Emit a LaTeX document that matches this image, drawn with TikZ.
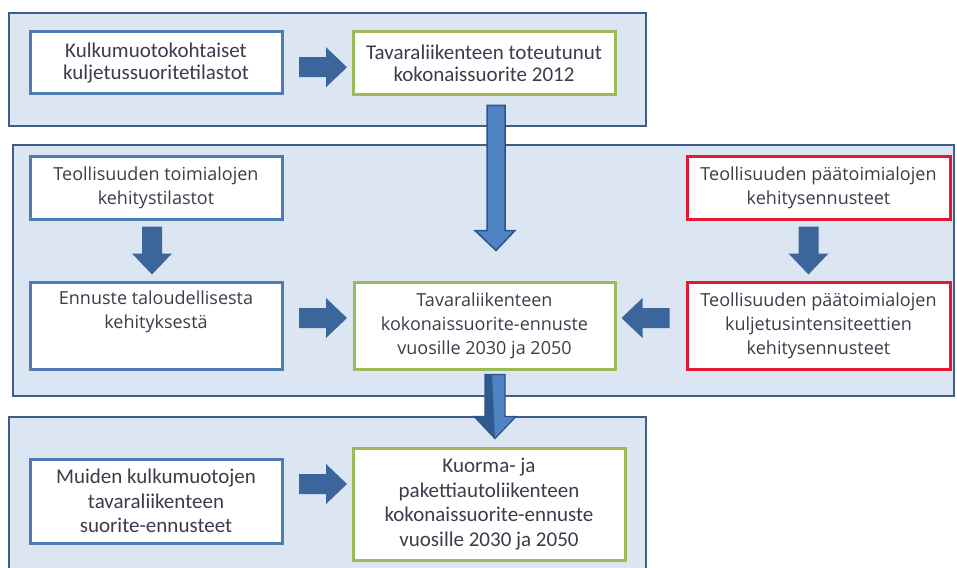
\documentclass[tikz,border=0pt]{standalone}
\usepackage{fontspec}
\setmainfont{Carlito}
\newfontfamily\opensans{Open Sans}
\usetikzlibrary{calc}

\definecolor{panelfill}{HTML}{DCE6F2}
\definecolor{panelline}{HTML}{3F5E88}
\definecolor{boxblue}{HTML}{4F7BB3}
\definecolor{boxgreen}{HTML}{9BBB59}
\definecolor{boxred}{HTML}{E2192F}
\definecolor{arrowblue}{HTML}{3C659B}
\definecolor{textgrey}{HTML}{3C3C4C}
\definecolor{longfill}{HTML}{4F83C2}
\definecolor{longdark}{HTML}{2F5A8F}
\definecolor{longline}{HTML}{2D5488}

\tikzset{
  panel/.style={draw=panelline, line width=2pt, fill=panelfill},
  box/.style={draw, line width=3pt, fill=white, align=center, inner sep=0pt,
    text=textgrey},
  bluebox/.style={box, draw=boxblue},
  greenbox/.style={box, draw=boxgreen},
  redbox/.style={box, draw=boxred},
  fonttop/.style={font=\fontsize{21}{22}\selectfont},
  fontmid/.style={font=\opensans\fontsize{18}{24}\selectfont},
  fontlow/.style={font=\fontsize{21}{24.5}\selectfont},
  pics/blockarrow/.style={code={
    \fill[arrowblue] (-24,-10) -- (3,-10) -- (3,-20) -- (24,0) -- (3,20)
      -- (3,10) -- (-24,10) -- cycle;
  }},
  longarrow/.style={fill=longfill, draw=longline, line width=1.5pt, line join=miter},
}

\begin{document}
\begin{tikzpicture}[x=1pt, y=-1pt]
  \useasboundingbox (0,0) rectangle (957,567);
  \fill[white] (0,0) rectangle (957,567);
  \clip (0,0) rectangle (957,567);

  % three stages
  \draw[panel] (9,13) rectangle (646,126);
  \draw[panel] (13,145) rectangle (954,396);
  \draw[panel] (9,417) rectangle (646,600);

  % stage 1
  \node[bluebox, fonttop, minimum width=252pt, minimum height=62pt] (k1) at (156,63)
    {Kulkumuotokohtaiset\\kuljetussuoritetilastot};
  \node[greenbox, fonttop, minimum width=262pt, minimum height=63pt] (g1) at (484,63.5)
    {Tavaraliikenteen toteutunut\\kokonaissuorite 2012};

  % stage 2
  \node[bluebox, fontmid, minimum width=252pt, minimum height=63pt] (t1) at (156,187.5)
    {Teollisuuden toimialojen\\kehitystilastot};
  \node[bluebox, fontmid, minimum width=252pt, minimum height=87pt] (e1) at (156,325.5)
    {Ennuste taloudellisesta\\kehityksestä\\\strut};
  \node[greenbox, fontmid, minimum width=261pt, minimum height=87pt] (g2) at (484.5,325.5)
    {Tavaraliikenteen\\kokonaissuorite-ennuste\\vuosille 2030 ja 2050};
  \node[redbox, fontmid, minimum width=263pt, minimum height=63pt] (r1) at (818.5,187.5)
    {Teollisuuden päätoimialojen\\kehitysennusteet};
  \node[redbox, fontmid, minimum width=263pt, minimum height=87pt] (r2) at (818.5,325.5)
    {Teollisuuden päätoimialojen\\kuljetusintensiteettien\\kehitysennusteet};

  % stage 3
  \node[bluebox, fontlow, minimum width=252pt, minimum height=84pt] (m1) at (156,501)
    {Muiden kulkumuotojen\\tavaraliikenteen\\suorite-ennusteet};
  \node[greenbox, fontlow, minimum width=272pt, minimum height=112pt] (g3) at (489,504)
    {Kuorma- ja\\pakettiautoliikenteen\\kokonaissuorite-ennuste\\vuosille 2030 ja 2050};

  % block arrows between boxes
  \pic at ($(k1.east)!0.5!(g1.west)+(5.5,4)$) {blockarrow};
  \pic[rotate=-90] at ($(t1.south)!0.5!(e1.north)+(-4,0)$) {blockarrow};
  \pic at ($(e1.east)!0.5!(g2.west)+(5,-7.5)$) {blockarrow};
  \pic[rotate=-90] at ($(r1.south)!0.5!(r2.north)+(-10,0)$) {blockarrow};
  \pic[rotate=180] at ($(g2.east)!0.5!(r2.west)+(-5.5,-7.5)$) {blockarrow};
  \pic at ($(m1.east)!0.5!(g3.west)+(5.5,-18.5)$) {blockarrow};

  % long arrows crossing the stage borders
  \coordinate (l1s) at ($(g1.south)+(12,9)$);
  \coordinate (l1t) at ($(g2.north)+(11.5,-30)$);
  \draw[longarrow] ($(l1s)+(-9,0)$) -- ($(l1t)+(-9,-20)$) -- ($(l1t)+(-21,-20)$)
    -- (l1t) -- ($(l1t)+(19,-20)$) -- ($(l1t)+(9,-20)$) -- ($(l1s)+(9,0)$) -- cycle;

  \coordinate (l2s) at ($(g2.south)+(10.5,4)$);
  \coordinate (l2t) at ($(g3.north)+(6,-8)$);
  \fill[longfill] ($(l2s)+(-10,0)$) -- ($(l2t)+(-10,-22)$) -- ($(l2t)+(-21,-22)$)
    -- (l2t) -- ($(l2t)+(21,-22)$) -- ($(l2t)+(10,-22)$) -- ($(l2s)+(10,0)$) -- cycle;
  \fill[longdark] ($(l2s)+(-10,0)$) -- ($(l2t)+(-10,-22)$) -- ($(l2t)+(-21,-22)$)
    -- (l2t) -- ($(l2s)+(-3,0)$) -- cycle;
  \draw[longline, line width=1.2pt] ($(l2s)+(-10,0)$) -- ($(l2t)+(-10,-22)$) -- ($(l2t)+(-21,-22)$)
    -- (l2t) -- ($(l2t)+(21,-22)$) -- ($(l2t)+(10,-22)$) -- ($(l2s)+(10,0)$) -- cycle;
\end{tikzpicture}
\end{document}
